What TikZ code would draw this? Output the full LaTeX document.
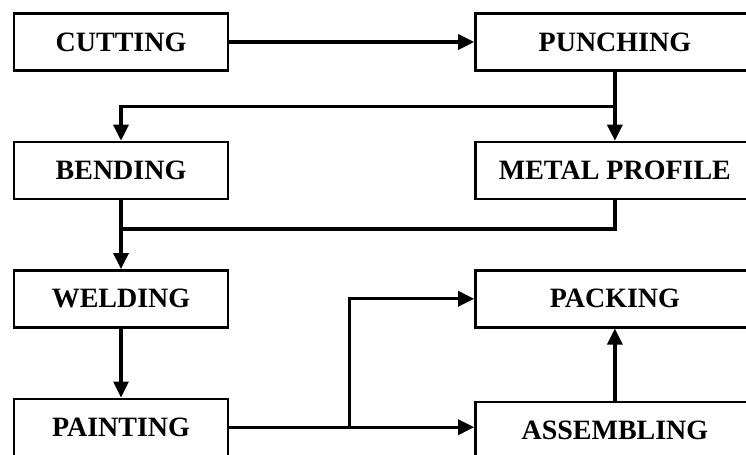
\documentclass[tikz,border=0pt]{standalone}
\usepackage{fontspec}
\setmainfont{Liberation Serif}
\usepackage{tikz}
\usetikzlibrary{arrows.meta,positioning,calc}
\tikzset{
  stage/.style={draw=black, line width=1.2pt, align=center, minimum height=28.5pt, inner sep=2pt, font=\fontsize{14}{16}\selectfont\bfseries},
  leftstage/.style={stage, minimum width=107pt},
  rightstage/.style={stage, minimum width=139.5pt},
  arrow/.style={-{Triangle[length=8pt, width=7.5pt]}, line width=1.6pt, draw=black},
  link/.style={line width=1.6pt, draw=black}
}

\begin{document}
\begin{tikzpicture}[node distance=34.5pt and 122.5pt]
  \useasboundingbox (-60.5pt,21pt) rectangle (312.5pt,-206.5pt);
  \clip (-60.5pt,21pt) rectangle (312.5pt,-206.5pt);

  \node[leftstage] (cut) at (0,0) {CUTTING};
  \node[rightstage, right=of cut] (punch) {PUNCHING};
  \node[leftstage, below=of cut] (bend) {BENDING};
  \node[rightstage, right=of bend] (metal) {METAL PROFILE};
  \node[leftstage, below=of bend] (weld) {WELDING};
  \node[rightstage, right=of weld] (pack) {PACKING};
  \node[leftstage, below=of weld] (paint) {PAINTING};
  \node[rightstage, right=of paint, yshift=-1.5pt] (assem) {ASSEMBLING};

  \coordinate (split) at ($(punch.south)!0.5!(metal.north)$);
  \coordinate (join) at ($(bend.south)!0.42!(weld.north)$);
  \coordinate (fork) at ($(paint.east)!0.49!(paint.east -| assem.west)$);

  \draw[arrow] (cut) -- (punch);
  \draw[arrow] (punch) -- (metal);
  \draw[arrow] (split) -| (bend.north);
  \draw[arrow] (bend) -- (weld);
  \draw[link] (metal.south) |- (join);
  \draw[arrow] (weld) -- (paint);
  \draw[arrow] (paint) -- (paint -| assem.west);
  \draw[arrow] (fork) |- (pack.west);
  \draw[arrow] (assem) -- (pack);
\end{tikzpicture}
\end{document}
